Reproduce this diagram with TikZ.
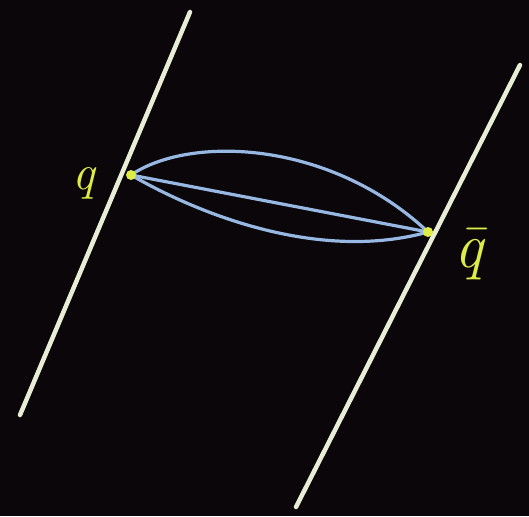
\documentclass[tikz,border=0pt]{standalone}
\usepackage{xcolor}
\usetikzlibrary{positioning}
\definecolor{tafel}{RGB}{10,6,10}
\definecolor{kreide}{RGB}{232,238,214}
\definecolor{blauk}{RGB}{150,184,226}
\definecolor{gelbk}{RGB}{222,236,70}

\begin{document}
\begin{tikzpicture}[x=1pt, y=-1pt,
  wand/.style={draw=kreide, line width=4.5pt, line cap=round},
  faden/.style={draw=blauk, line width=3.2pt, line cap=round},
  marke/.style={text=gelbk, font=\fontsize{50}{50}\selectfont\itshape, inner sep=0pt}]
\fill[tafel] (0,0) rectangle (529,516);
\useasboundingbox (0,0) rectangle (529,516);
% Randlinien
\coordinate (lo) at (190,12);  \coordinate (lu) at (20,415);
\coordinate (ro) at (520,65);  \coordinate (ru) at (296,507);
\draw[wand] (lo) -- (lu);
\draw[wand] (ro) -- (ru);
% Endpunkte der Faeden
\coordinate (q) at (131,175);
\coordinate (qb) at (428,232);
\draw[faden] (q) .. controls (190,135) and (330,140) .. (qb);
\draw[faden] (q) -- (qb);
\draw[faden] (q) .. controls (200,215) and (320,262) .. (qb);
\fill[gelbk] (q) circle (5pt);
\fill[gelbk] (qb) circle (5pt);
\node[marke, left=36pt of q, yshift=-8pt] (lq) {q};
\node[marke, font=\fontsize{64}{64}\selectfont\itshape, right=26pt of qb, yshift=-22pt] (lqb) {\=q};
\end{tikzpicture}
\end{document}
